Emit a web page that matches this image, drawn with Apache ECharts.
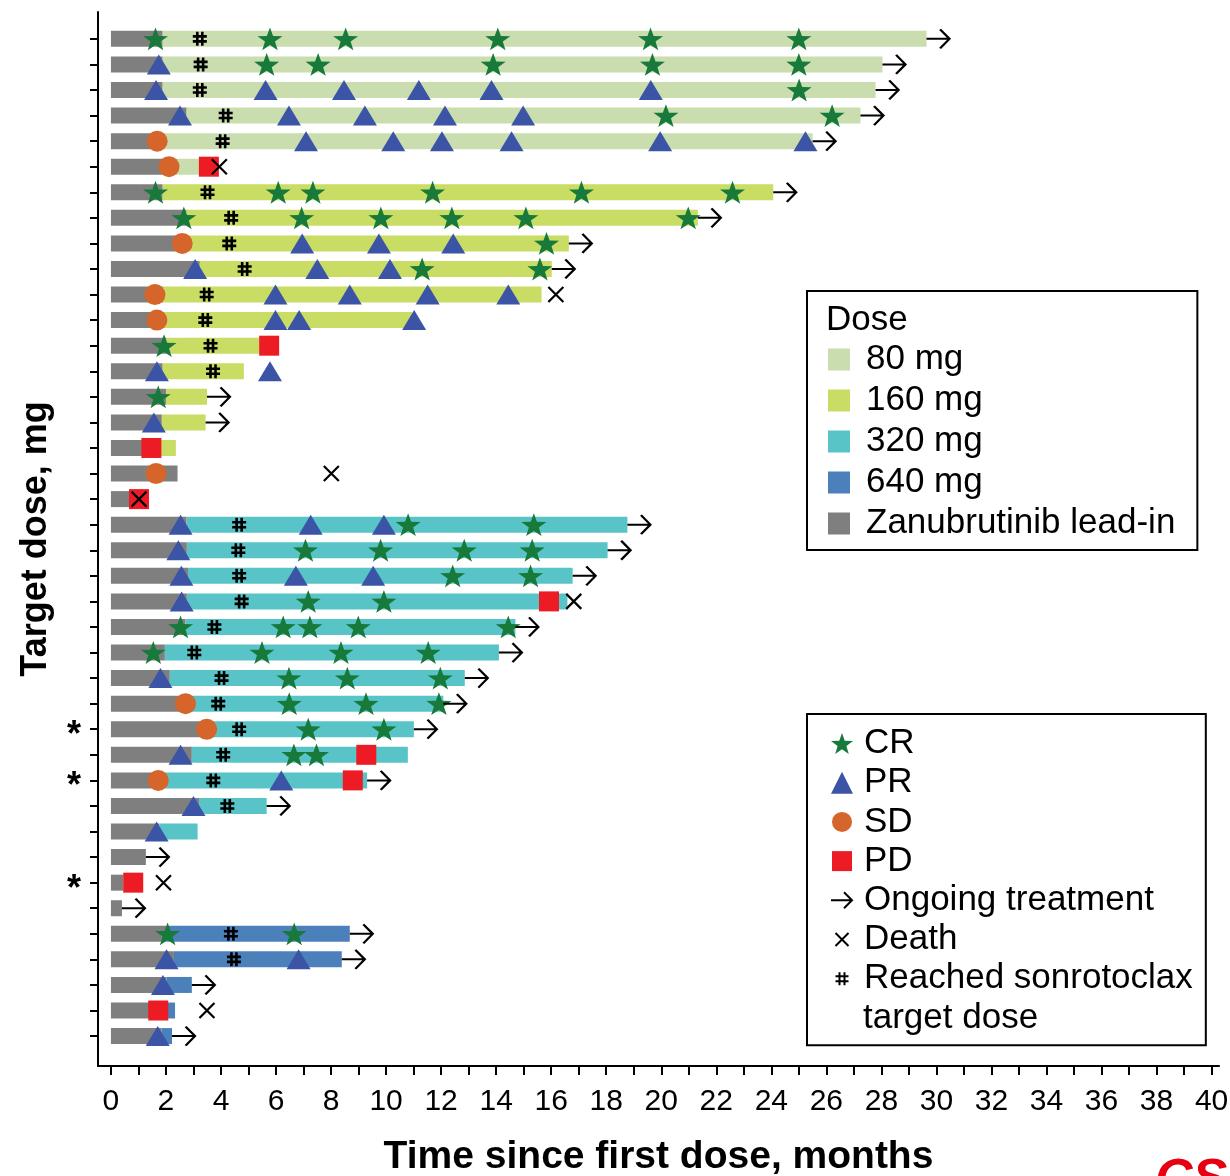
<!DOCTYPE html>
<html>
<head>
<meta charset="utf-8">
<script src="https://cdn.jsdelivr.net/npm/echarts@6/dist/echarts.min.js"></script>
<style>
html, body { margin: 0; padding: 0; background: #fff; }
#main { width: 1230px; height: 1176px; }
</style>
</head>
<body>
<div id="main"></div>
<script>
// rows are numbered 1..40 from the top
const doseNames = ['80 mg', '160 mg', '320 mg', '640 mg'];
const rowDose = [0,0,0,0,0,0, 1,1,1,1,1,1,1,1,1,1,1,1,1, 2,2,2,2,2,2,2,2,2,2,2,2,2,2,2,2, 3,3,3,3,3];
// end of zanubrutinib lead-in (months)
const leadEnd = [1.88,1.88,1.88,2.75,1.88,1.88,
  1.88,2.75,2.75,3.23,1.88,1.88,2.02,1.88,2.0,1.85,1.7,2.42,1.0,
  2.75,2.76,2.8,2.76,2.71,1.96,2.14,2.75,3.48,2.94,1.78,3.2,1.76,1.27,0.45,0.4,
  2.02,2.29,2.02,1.54,1.84];
// end of combination treatment (months), null = none
const treatEnd = [29.64,28.04,27.79,27.24,25.5,3.3,
  24.07,21.33,16.64,16.02,15.65,10.95,5.39,4.83,3.49,3.44,2.36,null,null,
  18.77,18.05,16.78,16.59,14.7,14.1,12.86,12.08,11.01,10.79,9.31,5.66,3.15,null,null,null,
  8.68,8.39,2.94,2.33,2.22];
// time when sonrotoclax target dose was reached
const hashX = [3.23,3.26,3.23,4.17,4.06,null,
  3.51,4.37,4.3,4.86,3.48,3.43,3.62,3.71,null,null,null,null,null,
  4.66,4.63,4.66,4.75,3.76,3.03,4.02,3.9,4.66,4.08,3.72,4.23,null,null,null,null,
  4.36,4.47,null,null,null];
const ongoingRows = [1,2,3,4,5,7,8,9,10,15,16,20,21,22,24,25,26,27,28,30,31,33,35,36,37,38,40];
const deathPts = [[3.94,6],[16.17,11],[8.01,18],[1.02,19],[16.82,23],[1.91,34],[3.49,39]];

// responses: [month, row]
const crPts = [
  [1.62,1],[5.78,1],[8.53,1],[14.06,1],[19.61,1],[25.0,1],
  [5.66,2],[7.53,2],[13.89,2],[19.68,2],[25.0,2],
  [25.01,3],
  [20.17,4],[26.21,4],
  [1.62,7],[6.08,7],[7.34,7],[11.69,7],[17.1,7],[22.59,7],
  [2.65,8],[6.93,8],[9.81,8],[12.39,8],[15.08,8],[20.98,8],
  [15.83,9],
  [11.31,10],[15.59,10],
  [1.93,13],
  [1.72,15],
  [10.8,20],[15.37,20],
  [7.07,21],[9.8,21],[12.84,21],[15.31,21],
  [12.42,22],[15.25,22],
  [7.17,23],[9.92,23],
  [2.53,24],[6.26,24],[7.23,24],[8.99,24],[14.44,24],
  [1.54,25],[5.49,25],[8.36,25],[11.53,25],
  [6.47,26],[8.59,26],[11.97,26],
  [6.48,27],[9.27,27],[11.92,27],
  [7.17,28],[9.92,28],
  [6.65,29],[7.47,29],
  [2.06,36],[6.66,36]
];
const prPts = [
  [1.74,2],
  [1.64,3],[5.62,3],[8.47,3],[11.19,3],[13.83,3],[19.62,3],
  [2.51,4],[6.47,4],[9.23,4],[12.14,4],[14.98,4],
  [7.09,5],[10.26,5],[12.03,5],[14.56,5],[19.96,5],[25.24,5],
  [6.95,9],[9.74,9],[12.44,9],
  [3.06,10],[7.5,10],[10.14,10],
  [5.98,11],[8.68,11],[11.51,11],[14.44,11],
  [5.98,12],[6.84,12],[11.02,12],
  [1.67,14],[5.78,14],
  [1.56,16],
  [2.53,20],[7.26,20],[9.92,20],
  [2.45,21],
  [2.56,22],[6.72,22],[9.53,22],
  [2.57,23],
  [1.8,26],
  [2.53,29],
  [6.19,30],
  [3.0,31],
  [1.66,32],
  [2.02,37],[6.82,37],
  [1.89,38],
  [1.7,40]
];
const sdPts = [[1.68,5],[2.11,6],[2.59,9],[1.6,11],[1.67,12],[1.64,18],[2.71,27],[3.48,28],[1.72,30]];
const pdPts = [[3.56,6],[5.75,13],[1.47,17],[1.02,19],[15.92,23],[9.28,29],[8.79,30],[0.81,34],[1.72,39]];

const xTicks = [0,1,2,3,4,5,6,7,8,9,10,11,12,13,14,15,16,17,18,19,20,21,22,23,24,25,26,27,28,29,30,31,32,33,34,35,36,37,38,39,40];
const xLabels = [0,2,4,6,8,10,12,14,16,18,20,22,24,26,28,30,32,34,36,38,40];
const rowTicks = [1,2,3,4,5,6,7,8,9,10,11,12,13,14,15,16,17,18,19,20,21,22,23,24,25,26,27,28,29,30,31,32,33,34,35,36,37,38,39,40];
const starRows = [28, 30, 34];

const FONT = '"Liberation Sans", Arial, sans-serif';
const doseColors = ['#c9ddae', '#c9dc63', '#58c4c7', '#4b80bb'];
const leadColor = '#7f7f7f';

const STAR = 'path://M50 0L61.76 33.82L97.55 34.55L69.02 56.18L79.39 90.45L50 70L20.61 90.45L30.98 56.18L2.45 34.55L38.24 33.82Z';
const ARROW = 'path://M0 10H22M13 1L22 10L13 19';
const CROSS = 'path://M0 0L14 14M14 0L0 14';
const HASH = 'path://M4.5 0V14M9.5 0V14M0 4.5H14M0 9.5H14';

function barRender(params, api) {
  const row = api.value(0);
  const a = api.coord([api.value(1), row]);
  const b = api.coord([api.value(2), row]);
  return {
    type: 'rect',
    shape: { x: a[0], y: a[1] - 8, width: b[0] - a[0], height: 16 },
    style: { fill: api.visual('color') }
  };
}

const series = [];
series.push({
  name: 'Zanubrutinib lead-in', type: 'custom', renderItem: barRender,
  encode: { x: [1, 2], y: 0 }, itemStyle: { color: leadColor }, z: 1, silent: true,
  data: leadEnd.map((e, i) => [i + 1, 0, e])
});
doseNames.forEach((nm, k) => {
  const d = [];
  treatEnd.forEach((e, i) => {
    if (e != null && rowDose[i] === k) d.push([i + 1, leadEnd[i], e]);
  });
  series.push({
    name: nm, type: 'custom', renderItem: barRender,
    encode: { x: [1, 2], y: 0 }, itemStyle: { color: doseColors[k] }, z: 1, silent: true,
    data: d
  });
});

const common = { type: 'scatter', silent: true, emphasis: { disabled: true } };
series.push(Object.assign({}, common, { name: 'CR', symbol: STAR, symbolSize: [25, 24], symbolKeepAspect: true, itemStyle: { color: '#177a3b', opacity: 1 }, z: 3, data: crPts }));
series.push(Object.assign({}, common, { name: 'PR', symbol: 'triangle', symbolSize: [24, 20], itemStyle: { color: '#3b54a5', opacity: 1 }, z: 3, data: prPts }));
series.push(Object.assign({}, common, { name: 'SD', symbol: 'circle', symbolSize: 21, itemStyle: { color: '#d6652b', opacity: 1 }, z: 3, data: sdPts }));
series.push(Object.assign({}, common, { name: 'PD', symbol: 'rect', symbolSize: 20, itemStyle: { color: '#ed1c24', opacity: 1 }, z: 3, data: pdPts }));
series.push(Object.assign({}, common, {
  name: 'Ongoing treatment', symbol: ARROW, symbolSize: [23, 19], symbolOffset: [11.5, 0],
  itemStyle: { color: 'transparent', borderColor: '#000', borderWidth: 2.2, opacity: 1 }, z: 4,
  data: ongoingRows.map(r => [treatEnd[r - 1] != null ? treatEnd[r - 1] : leadEnd[r - 1], r])
}));
series.push(Object.assign({}, common, {
  name: 'Death', symbol: CROSS, symbolSize: 15,
  itemStyle: { color: 'transparent', borderColor: '#000', borderWidth: 2.2, opacity: 1 }, z: 5, data: deathPts
}));
series.push(Object.assign({}, common, {
  name: 'Reached sonrotoclax', symbol: HASH, symbolSize: [14, 14],
  itemStyle: { color: 'transparent', borderColor: '#000', borderWidth: 2.6, opacity: 1 }, z: 4,
  data: hashX.map((x, i) => [x, i + 1]).filter(p => p[0] != null)
}));

const legendText = { fontSize: 35, fontFamily: FONT, color: '#000' };

const option = {
  animation: false,
  backgroundColor: '#fff',
  grid: { left: 98, right: 11, top: 12, bottom: 110, containLabel: false, outerBoundsMode: 'none' },
  xAxis: {
    type: 'value', min: -0.47, max: 40.27,
    name: 'Time since first dose, months', nameLocation: 'middle', nameGap: 72, nameMoveOverlap: false,
    nameTextStyle: { fontSize: 39, fontWeight: 'bold', fontFamily: FONT, color: '#000' },
    axisLine: { show: true, onZero: false, lineStyle: { color: '#000', width: 2 } },
    axisTick: { show: true, customValues: xTicks, length: 9, lineStyle: { color: '#000', width: 2 } },
    axisLabel: { customValues: xLabels, fontSize: 30, fontFamily: FONT, color: '#000', margin: 21 },
    splitLine: { show: false }
  },
  yAxis: {
    type: 'value', inverse: true, min: -0.05, max: 41.17,
    name: 'Target dose, mg', nameLocation: 'middle', nameGap: 44, nameMoveOverlap: false,
    nameTextStyle: { fontSize: 36, fontWeight: 'bold', fontFamily: FONT, color: '#000' },
    axisLine: { show: true, onZero: false, lineStyle: { color: '#000', width: 2 } },
    axisTick: { show: true, customValues: rowTicks, length: 8, lineStyle: { color: '#000', width: 2 } },
    axisLabel: {
      customValues: starRows, formatter: () => '*', fontSize: 36, fontWeight: 'bold',
      fontFamily: FONT, color: '#000', margin: 17, verticalAlign: 'top', lineHeight: 14
    },
    splitLine: { show: false }
  },
  legend: [
    {
      orient: 'vertical', left: 807, top: 291, padding: [51, 22, 9, 21], itemGap: 6,
      itemWidth: 22, itemHeight: 22, borderColor: '#000', borderWidth: 2, selectedMode: false,
      textStyle: Object.assign({ padding: [0, 0, 0, 11] }, legendText),
      data: ['80 mg', '160 mg', '320 mg', '640 mg', 'Zanubrutinib lead-in'].map(n => ({ name: n, icon: 'rect' }))
    },
    {
      orient: 'vertical', left: 807, top: 714, padding: [12, 13, 49, 23], itemGap: 4.2,
      itemWidth: 22, itemHeight: 22, borderColor: '#000', borderWidth: 2, selectedMode: false,
      textStyle: Object.assign({ padding: [0, 0, 0, 6] }, legendText),
      data: [
        { name: 'CR', icon: STAR },
        { name: 'PR', icon: 'triangle' },
        { name: 'SD', icon: 'path://M0 0M22 22M11 1A10 10 0 1 1 10.99 1Z' },
        { name: 'PD', icon: 'path://M0 0M22 22M1 1H21V21H1Z' },
        { name: 'Ongoing treatment', icon: 'path://M0 0M22 22M0 11H21M13 3L21 11L13 19' },
        { name: 'Death', icon: 'path://M0 0M22 22M4.5 4.5L17.5 17.5M17.5 4.5L4.5 17.5' },
        { name: 'Reached sonrotoclax', icon: 'path://M0 0M22 22M8.5 4.5V17.5M13.5 4.5V17.5M4.5 8.5H17.5M4.5 13.5H17.5' }
      ]
    }
  ],
  graphic: [
    { type: 'text', left: 826, top: 303, style: { text: 'Dose', font: '35px ' + FONT, fill: '#000' } },
    { type: 'text', left: 863, top: 1001, style: { text: 'target dose', font: '35px ' + FONT, fill: '#000' } },
    { type: 'text', left: 1155, top: 1155, style: { text: 'CSCO', font: 'italic bold 52px ' + FONT, fill: '#e60012' } }
  ],
  series: series
};

const chart = echarts.init(document.getElementById('main'));
chart.setOption(option);
</script>
</body>
</html>
